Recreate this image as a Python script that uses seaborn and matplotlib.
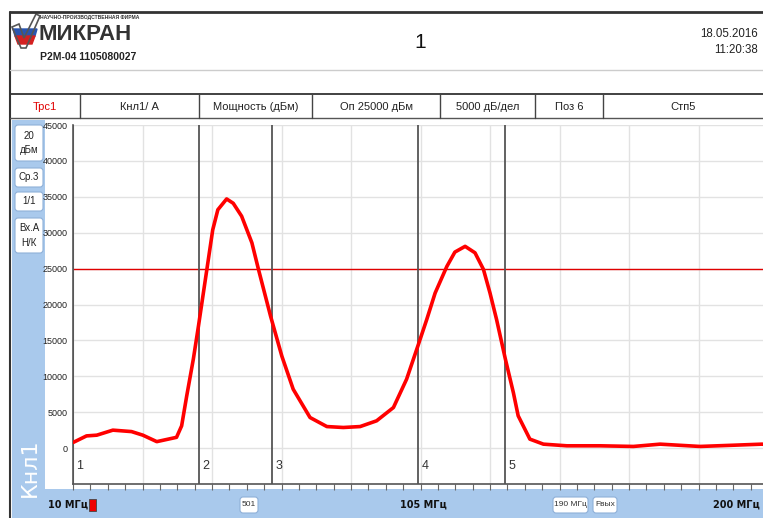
import matplotlib
matplotlib.use("Agg")
import matplotlib.pyplot as plt
import seaborn as sns
import pandas as pd
from matplotlib import font_manager
from matplotlib.patches import Rectangle, FancyBboxPatch, Polygon

# --- trace (MHz, level) ---
freq_mhz = [10.1, 13.7, 16.5, 20.9, 26.0, 29.1, 32.9, 38.3, 39.7, 41.1, 42.9, 44.3,
            46.6, 48.2, 49.6, 52.0, 53.8, 56.1, 58.9, 60.7, 64.0, 67.1, 70.2, 74.8,
            79.4, 83.9, 88.5, 93.0, 97.6, 101.2, 104.4, 106.7, 109.0, 112.2, 114.4,
            117.2, 119.9, 122.2, 124.0, 125.8, 128.2, 130.4, 131.7, 134.9, 138.6,
            145.0, 154.1, 163.2, 170.5, 181.4, 190.5, 198.3, 200.0]
level = [800, 1700, 1800, 2500, 2300, 1800, 900, 1500, 3100, 7300, 12400, 17000,
         24900, 30400, 33200, 34700, 34100, 32300, 28600, 24900, 18400, 12800, 8200, 4260,
         3000, 2870, 3000, 3800, 5650, 9600, 14400, 17900, 21600, 25300, 27300,
         28100, 27200, 24900, 21600, 17900, 12400, 7700, 4500, 1250, 550,
         320, 320, 230, 550, 230, 400, 550, 500]

marker_freqs = [10.0, 44.4, 64.4, 104.3, 128.1]
marker_labels = ["1", "2", "3", "4", "5"]
ref_level = 25000
y_ticks = list(range(0, 45001, 5000))
f_start, f_stop = 10, 200

header_cells = ["Трс1", "Кнл1/ А", "Мощность (дБм)", "Оп 25000 дБм", "5000 дБ/дел", "Поз 6", "Стп5"]
side_buttons = ["20\nдБм", "Ср.3", "1/1", "Вх.А\nН/К"]

# --- fonts ---
sns.set_style("white")
names = {f.name for f in font_manager.fontManager.ttflist}
NARROW = "Liberation Sans Narrow" if "Liberation Sans Narrow" in names else "Liberation Sans"
plt.rcParams["font.family"] = [NARROW, "DejaVu Sans"]

BLUE = "#a9c9ec"
W, H = 763, 518

fig = plt.figure(figsize=(W / 100, H / 100), dpi=100, facecolor="white")

# background layer in pixel coordinates
bg = fig.add_axes([0, 0, 1, 1], zorder=0)
bg.set_xlim(0, W)
bg.set_ylim(H, 0)
bg.axis("off")

# frame lines
bg.plot([10, W], [12, 12], color="#333333", lw=2)
bg.plot([10, 10], [12, H], color="#333333", lw=1.5)
bg.plot([10, W], [70, 70], color="#cccccc", lw=1)
bg.plot([10, W], [94, 94], color="#333333", lw=1.3)
bg.plot([10, W], [118, 118], color="#555555", lw=1)

# header row
cell_edges = [10, 80, 199, 312, 440, 535, 603, W]
for i, txt in enumerate(header_cells):
    if i > 0:
        bg.plot([cell_edges[i], cell_edges[i]], [94, 118], color="#444444", lw=1)
    cx = (cell_edges[i] + cell_edges[i + 1]) / 2
    bg.text(cx, 106.5, txt, ha="center", va="center", fontsize=8,
            color="#e00000" if i == 0 else "#222222")

# logo
bg.add_patch(Polygon([(13, 29), (37, 29), (35, 36), (15, 36)], color="#2a55b0"))
bg.add_patch(Polygon([(15, 36), (35, 36), (32, 44), (18, 44)], color="#d42020"))
bg.add_patch(Polygon([(12, 27), (19, 24), (24, 38), (36, 14), (40, 16), (26, 48), (21, 48)],
                     fill=False, ec="#555555", lw=1.2))
bg.text(40, 18, "НАУЧНО-ПРОИЗВОДСТВЕННАЯ ФИРМА", fontsize=3.6, fontweight="bold",
        ha="left", va="center", color="#333333")
bg.text(39, 34, "МИКРАН", fontsize=16, fontweight="bold", family="Liberation Sans",
        ha="left", va="center", color="#333333")
bg.text(40, 57, "Р2М-04 1105080027", fontsize=7.5, fontweight="bold",
        ha="left", va="center", color="#222222")

bg.text(420, 42, "1", fontsize=15, ha="center", va="center", color="#111111",
        family="Liberation Sans")
bg.text(758, 34, "18.05.2016", fontsize=8.3, ha="right", va="center", color="#222222")
bg.text(758, 50, "11:20:38", fontsize=8.3, ha="right", va="center", color="#222222")

# left side panel and bottom bar
bg.add_patch(Rectangle((12, 120), 33, 372, color=BLUE, lw=0))
bg.add_patch(Rectangle((12, 489), W - 12, H - 489, color=BLUE, lw=0))

button_boxes = [(125, 161), (168, 187), (192, 211), (218, 253)]
for (y0, y1), txt in zip(button_boxes, side_buttons):
    bg.add_patch(FancyBboxPatch((15, y0), 28, y1 - y0,
                                boxstyle="round,pad=0,rounding_size=3",
                                fc="white", ec="#8fb0d8", lw=0.8))
    bg.text(29, (y0 + y1) / 2, txt, ha="center", va="center", fontsize=7,
            color="#222222", linespacing=1.6)

bg.text(30, 468, "Кнл1", rotation=90, ha="center", va="center", fontsize=16,
        color="white", family="DejaVu Sans")

# bottom bar labels
bg.text(48, 505, "10 МГц", fontsize=7, fontweight="bold", family="DejaVu Sans",
        ha="left", va="center", color="#111111")
bg.add_patch(Rectangle((89, 499), 7, 12, fc="#ee0000", ec="#444444", lw=0.6))
for (x0, x1), txt in zip([(240, 258), (553, 588), (593, 617)], ["501", "190 МГц", "Fвых"]):
    bg.add_patch(FancyBboxPatch((x0, 497), x1 - x0, 16,
                                boxstyle="round,pad=0,rounding_size=3",
                                fc="white", ec="#8fb0d8", lw=0.8))
    bg.text((x0 + x1) / 2, 505, txt, ha="center", va="center", fontsize=6, color="#333333")
bg.text(400, 505, "105 МГц", fontsize=7, fontweight="bold", family="DejaVu Sans",
        ha="left", va="center", color="#111111")
bg.text(760, 505, "200 МГц", fontsize=7, fontweight="bold", family="DejaVu Sans",
        ha="right", va="center", color="#111111")

# --- main trace axes ---
L, R, T, B = 73, 768, 125, 484
ax = fig.add_axes([L / W, 1 - B / H, (R - L) / W, (B - T) / H], zorder=1)
ax.set_facecolor("white")

df = pd.DataFrame({"freq": freq_mhz, "level": level})
ax.axhline(ref_level, color="#e00000", lw=1.0, zorder=2)
for f, lab in zip(marker_freqs, marker_labels):
    ax.axvline(f, color="#555555", lw=1.3, zorder=2)
    ax.text(f + 0.9, -2500, lab, fontsize=9, ha="left", va="center", color="#333333")
sns.lineplot(data=df, x="freq", y="level", ax=ax, color="#ff0000", linewidth=2.6,
             legend=False, zorder=3)

ax.set_xlim(f_start, f_stop)
ax.set_ylim(-5000, 45000)
step = (f_stop - f_start) / 10
ax.set_xticks([f_start + step * k for k in range(11)])
ax.set_xticks([f_start + step / 4 * k for k in range(41)], minor=True)
ax.set_xticklabels([])
ax.set_yticks(y_ticks)
ax.set_yticklabels([str(v) for v in y_ticks])
ax.tick_params(axis="y", direction="out", length=3, width=0.8, color="#555555",
               labelsize=6.5, labelcolor="#222222", pad=1)
ax.tick_params(axis="x", which="both", direction="out", length=4, width=0.8,
               color="#666666", bottom=True)
ax.grid(True, which="major", color="#e2e2e2", lw=1)
ax.set_axisbelow(True)
ax.set_xlabel("")
ax.set_ylabel("")
for side in ["top", "right"]:
    ax.spines[side].set_visible(False)
for side in ["left", "bottom"]:
    ax.spines[side].set_color("#555555")
    ax.spines[side].set_linewidth(1.2)

fig.savefig("out.png", dpi=100, facecolor="white")
